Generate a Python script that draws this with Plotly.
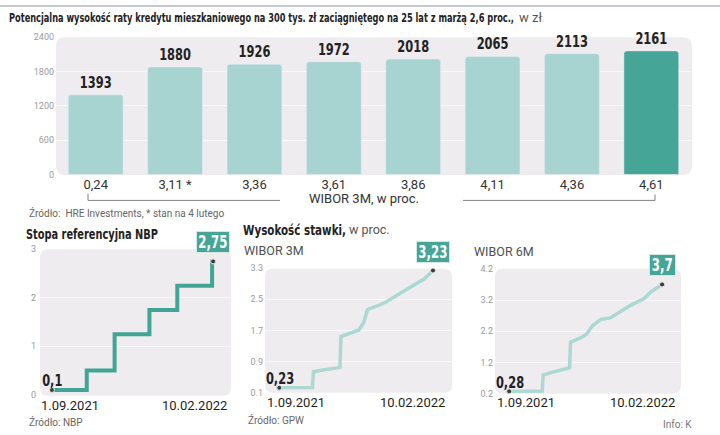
import plotly.graph_objects as go

W, H = 720, 435

# ---------------- data ----------------
wibor_levels = ["0,24", "3,11 *", "3,36", "3,61", "3,86", "4,11", "4,36", "4,61"]
installments = [1393, 1880, 1926, 1972, 2018, 2065, 2113, 2161]
bar_ticks = [0, 600, 1200, 1800, 2400]

nbp_dates = ["2021-09-01", "2021-10-06", "2021-11-03", "2021-12-08", "2022-01-05", "2022-02-09", "2022-02-10"]
nbp_rate = [0.1, 0.5, 1.25, 1.75, 2.25, 2.75, 2.75]

w3_dates = ["2021-09-01", "2021-10-06", "2021-10-07", "2021-10-15", "2021-11-01", "2021-11-04",
            "2021-11-05", "2021-11-24", "2021-11-29", "2021-12-03", "2021-12-14", "2021-12-23",
            "2022-01-03", "2022-01-13", "2022-01-23", "2022-02-01", "2022-02-10"]
w3_rate = [0.23, 0.24, 0.64, 0.68, 0.74, 0.76, 1.54, 1.71, 1.90, 2.23, 2.33, 2.43,
           2.60, 2.74, 2.89, 3.02, 3.23]

w6_dates = ["2021-09-01", "2021-10-06", "2021-10-07", "2021-10-15", "2021-11-01", "2021-11-04",
            "2021-11-05", "2021-11-15", "2021-11-22", "2021-11-28", "2021-12-07", "2021-12-17",
            "2021-12-28", "2022-01-08", "2022-01-22", "2022-01-29", "2022-02-10"]
w6_rate = [0.28, 0.29, 0.80, 0.88, 1.01, 1.03, 1.85, 1.98, 2.11, 2.37, 2.58, 2.63,
           2.83, 3.04, 3.25, 3.46, 3.70]

nbp_ticks = [0, 1, 2, 3]
w3_ticks = [0.1, 0.9, 1.7, 2.5, 3.3]
w6_ticks = [0.2, 1.2, 2.2, 3.2, 4.2]

# ---------------- style ----------------
LIGHT = "#a7d4d0"
DARK = "#45a697"
BG = "#efecf0"
GRID = "#f9f8fa"
NARROW = "DejaVu Sans Condensed"
SANS = "Roboto, Open Sans, sans-serif"


def px(x):
    return x / W


def py(y):
    return 1 - y / H


def rrect(x0, y0, x1, y1, r=8):
    rx, ry = r / W, r / H
    X0, X1 = px(x0), px(x1)
    Y0, Y1 = py(y0), py(y1)  # Y0 top, Y1 bottom
    path = (f"M {X0+rx},{Y0} L {X1-rx},{Y0} Q {X1},{Y0} {X1},{Y0-ry} "
            f"L {X1},{Y1+ry} Q {X1},{Y1} {X1-rx},{Y1} L {X0+rx},{Y1} "
            f"Q {X0},{Y1} {X0},{Y1+ry} L {X0},{Y0-ry} Q {X0},{Y0} {X0+rx},{Y0} Z")
    return dict(type="path", path=path, xref="paper", yref="paper",
                fillcolor=BG, line=dict(width=0), layer="below")


fig = go.Figure()

# bar chart
fig.add_trace(go.Bar(
    x=wibor_levels, y=installments, xaxis="x", yaxis="y",
    marker=dict(color=[LIGHT] * (len(installments) - 1) + [DARK], cornerradius=3),
    text=[str(v) for v in installments], textposition="outside",
    textfont=dict(family=NARROW, size=16.5, color="#222222", weight="bold"),
    cliponaxis=False, hoverinfo="skip",
))

# lines
fig.add_trace(go.Scatter(
    x=nbp_dates, y=nbp_rate, xaxis="x2", yaxis="y2", mode="lines",
    line=dict(color="#40a594", width=4, shape="hv"), hoverinfo="skip",
))
fig.add_trace(go.Scatter(
    x=w3_dates, y=w3_rate, xaxis="x3", yaxis="y3", mode="lines",
    line=dict(color="#acd8d2", width=3.5), hoverinfo="skip",
))
fig.add_trace(go.Scatter(
    x=w6_dates, y=w6_rate, xaxis="x4", yaxis="y4", mode="lines",
    line=dict(color="#acd8d2", width=3.5), hoverinfo="skip",
))

# end dots
for xs, ys, xa, ya in [(nbp_dates, nbp_rate, "x2", "y2"), (w3_dates, w3_rate, "x3", "y3"),
                       (w6_dates, w6_rate, "x4", "y4")]:
    fig.add_trace(go.Scatter(
        x=[xs[0], xs[-1]], y=[ys[0], ys[-1]], xaxis=xa, yaxis=ya, mode="markers",
        marker=dict(size=5, color="#3a3a3a", line=dict(width=1, color="#e8e8e8")),
        hoverinfo="skip",
    ))

tickfont = dict(family=SANS, size=9, color="#9a9a9a")

layout = dict(
    width=W, height=H, autosize=False,
    margin=dict(l=0, r=0, t=0, b=0),
    paper_bgcolor="white", plot_bgcolor="rgba(0,0,0,0)",
    showlegend=False, bargap=0.31,
    xaxis=dict(domain=[px(56), px(691)], type="category", range=[-0.5, 7.5],
               showgrid=False, zeroline=False, showline=False, ticks="",
               tickfont=dict(family=SANS, size=13, color="#333333"), fixedrange=True),
    yaxis=dict(domain=[py(173.5), py(33)], range=[0, 2400], tickvals=bar_ticks,
               showgrid=True, gridcolor=GRID, gridwidth=1, zeroline=False,
               tickfont=tickfont, ticklabelstandoff=1),
    xaxis2=dict(domain=[px(40), px(231)], type="date", range=["2021-08-20", "2022-02-28"],
                showticklabels=False, showgrid=False, zeroline=False, anchor="y2"),
    yaxis2=dict(domain=[py(399), py(250)], range=[0, 3], tickvals=nbp_ticks, anchor="x2",
                showgrid=True, gridcolor=GRID, zeroline=False, tickfont=tickfont,
                ticklabelstandoff=3),
    xaxis3=dict(domain=[px(265), px(451)], type="date", range=["2021-08-17", "2022-03-01"],
                showticklabels=False, showgrid=False, zeroline=False, anchor="y3"),
    yaxis3=dict(domain=[py(397), py(269)], range=[0.1, 3.3], tickvals=w3_ticks, anchor="x3",
                showgrid=True, gridcolor=GRID, zeroline=False, tickfont=tickfont,
                ticklabelstandoff=1),
    xaxis4=dict(domain=[px(495), px(681)], type="date", range=["2021-08-17", "2022-03-02"],
                showticklabels=False, showgrid=False, zeroline=False, anchor="y4"),
    yaxis4=dict(domain=[py(398), py(270)], range=[0.2, 4.2], tickvals=w6_ticks, anchor="x4",
                showgrid=True, gridcolor=GRID, zeroline=False, tickfont=tickfont,
                ticklabelstandoff=1),
)
fig.update_layout(**layout)

shapes = [
    rrect(56, 33, 692, 174, 9),
    rrect(40, 250, 231, 400, 8),
    rrect(265, 270, 452, 397, 8),
    rrect(495, 270, 681, 398, 8),
    # top border
    dict(type="line", xref="paper", yref="paper", x0=0, x1=1, y0=py(1), y1=py(1),
         line=dict(color="#c6cad0", width=2)),
    # brackets
    dict(type="path", xref="paper", yref="paper",
         path=f"M {px(88)},{py(193)} L {px(88)},{py(200)} L {px(280)},{py(200)}",
         line=dict(color="#808080", width=1)),
    dict(type="path", xref="paper", yref="paper",
         path=f"M {px(463)},{py(200)} L {px(655)},{py(200)} L {px(655)},{py(194)}",
         line=dict(color="#808080", width=1)),
]
fig.update_layout(shapes=shapes)

ann = []


def text(x, y, s, size, color="#333333", family=SANS, xanchor="left", width=None):
    a = dict(x=px(x), y=py(y), xref="paper", yref="paper", text=s, showarrow=False,
             xanchor=xanchor, yanchor="middle", align=xanchor,
             font=dict(family=family, size=size, color=color))
    if width is not None:
        a["width"] = width
    ann.append(a)


text(7, 13, "<b>Potencjalna wysokość raty kredytu mieszkaniowego na 300 tys. zł zaciągniętego "
            "na 25 lat z marżą 2,6 proc.,</b>", 13, "#222222", NARROW, width=508)
text(517, 13, "w zł", 13, "#555555", SANS)
text(364, 198, "WIBOR 3M, w proc.", 13, "#333333", SANS, "center")
text(27, 213, "Źródło:  HRE Investments, * stan na 4 lutego", 10, "#666666", SANS)
text(24, 234, "<b>Stopa referencyjna NBP</b>", 13.5, "#222222", NARROW, width=134)
text(241, 230, "<b>Wysokość stawki,</b>", 13.5, "#222222", NARROW, width=105)
text(347, 230, "w proc.", 12.5, "#555555", SANS)
text(242, 251, "WIBOR 3M", 12.5, "#505050", SANS)
text(472, 252, "WIBOR 6M", 12.5, "#505050", SANS)

for x0, x1, yy in [(39, 229, 410), (265, 447, 407), (495, 677, 407)]:
    text(x0, yy, "1.09.2021", 13, "#1e1e1e", SANS, "left")
    text(x1, yy, "10.02.2022", 13, "#1e1e1e", SANS, "right")

text(27, 427, "Źródło: NBP", 10, "#666666", SANS)
text(246, 425, "Źródło: GPW", 10, "#666666", SANS)
text(694, 429, "Info: K", 10, "#777777", SANS, "right")

# value labels at series ends
for xs, ys, xa, ya, s0, s1 in [
    (nbp_dates, nbp_rate, "x2", "y2", "0,1", "2,75"),
    (w3_dates, w3_rate, "x3", "y3", "0,23", "3,23"),
    (w6_dates, w6_rate, "x4", "y4", "0,28", "3,7"),
]:
    ann.append(dict(x=xs[0], y=ys[0], xref=xa, yref=ya, text=f"<b>{s0}</b>", showarrow=False,
                    xanchor="center", yanchor="middle", yshift=9, xshift=1,
                    width=len(s0) * 7.5 + 2,
                    font=dict(family=NARROW, size=16.5, color="#222222")))
    ann.append(dict(x=xs[-1], y=ys[-1], xref=xa, yref=ya, text=f"<b>{s1}</b>", showarrow=False,
                    xanchor="center", yanchor="middle", yshift=19, xshift=0,
                    width=len(s1) * 7.2 + 1, height=18,
                    bgcolor=DARK, bordercolor="#d4e8e4", borderwidth=1, borderpad=1,
                    font=dict(family=NARROW, size=17, color="white")))

fig.update_layout(annotations=ann)

# condense the DejaVu Condensed texts further to mimic the narrow newspaper typeface
post = """
(function(){
  var targets = [["Potencjalna", 505], ["Stopa referencyjna", 132], ["Wysoko", 103]];
  function fit(t, len){
    t.setAttribute('textLength', len.toFixed(1));
    t.setAttribute('lengthAdjust', 'spacingAndGlyphs');
  }
  document.querySelectorAll('text').forEach(function(t){
    var ff = t.getAttribute('style') || '';
    if (ff.indexOf('Condensed') < 0) return;
    var s = t.textContent;
    var L = t.getComputedTextLength();
    for (var i = 0; i < targets.length; i++){
      if (s.indexOf(targets[i][0]) === 0){ fit(t, targets[i][1]); return; }
    }
    fit(t, L * 0.77);
  });
})();
document.body.style.margin = '0px';
"""
fig.write_html("out.html", post_script=post, config={"displayModeBar": False})
